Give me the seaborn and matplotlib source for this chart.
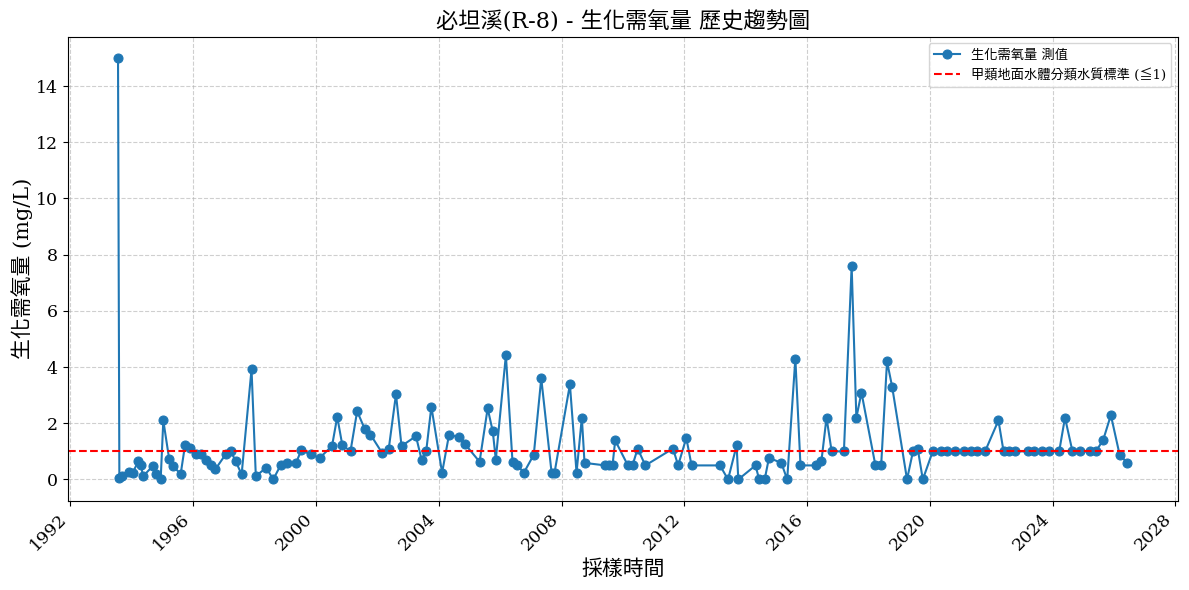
import numpy as np
import pandas as pd
import seaborn as sns
import matplotlib.pyplot as plt
import matplotlib.dates as mdates

# sampling dates and BOD values in mg/L
dates = [
    "1993-07-20", "1993-08-05", "1993-09-10", "1993-12-01", "1994-01-10", "1994-03-20",
    "1994-04-15", "1994-05-15", "1994-09-05", "1994-10-20", "1994-12-10", "1995-01-10",
    "1995-03-20", "1995-05-05", "1995-08-05", "1995-09-25", "1995-11-20", "1996-02-01",
    "1996-04-01", "1996-06-01", "1996-07-30", "1996-09-20", "1997-01-20", "1997-03-25",
    "1997-05-20", "1997-07-30", "1997-11-25", "1998-01-15", "1998-05-20", "1998-08-10",
    "1998-11-05", "1999-01-25", "1999-05-10", "1999-07-10", "1999-10-30", "2000-02-15",
    "2000-07-10", "2000-09-10", "2000-11-10", "2001-02-15", "2001-05-05", "2001-08-05",
    "2001-10-10", "2002-03-01", "2002-05-15", "2002-08-10", "2002-10-15", "2003-04-05",
    "2003-06-10", "2003-08-05", "2003-10-05", "2004-02-10", "2004-05-01", "2004-09-01",
    "2004-11-05", "2005-05-01", "2005-08-05", "2005-10-05", "2005-11-10", "2006-03-10",
    "2006-05-28", "2006-07-25", "2006-10-10", "2007-02-05", "2007-05-05", "2007-09-05",
    "2007-10-10", "2008-04-10", "2008-06-28", "2008-08-30", "2008-10-01", "2009-06-05",
    "2009-07-15", "2009-08-30", "2009-10-01", "2010-03-01", "2010-04-25", "2010-06-25",
    "2010-09-25", "2011-08-20", "2011-10-20", "2012-01-25", "2012-03-28", "2013-03-01",
    "2013-06-05", "2013-09-15", "2013-10-05", "2014-04-28", "2014-06-10", "2014-08-15",
    "2014-10-05", "2015-03-01", "2015-05-10", "2015-08-15", "2015-10-15", "2016-04-20",
    "2016-06-20", "2016-08-20", "2016-10-20", "2017-03-15", "2017-06-15", "2017-08-10",
    "2017-10-10", "2018-03-25", "2018-06-01", "2018-08-10", "2018-10-10", "2019-04-05",
    "2019-06-15", "2019-08-10", "2019-10-10", "2020-02-05", "2020-05-15", "2020-07-25",
    "2020-10-25", "2021-02-15", "2021-05-05", "2021-07-15", "2021-10-20", "2022-03-28",
    "2022-05-28", "2022-07-28", "2022-10-10", "2023-03-10", "2023-05-20", "2023-08-25",
    "2023-11-20", "2024-03-20", "2024-05-28", "2024-08-25", "2024-11-25", "2025-03-20",
    "2025-05-30", "2025-08-25", "2025-11-25", "2026-03-10", "2026-06-10",
]
bod = [
    15.0, 0.05, 0.12, 0.26, 0.24, 0.65,
    0.53, 0.12, 0.47, 0.18, 0.02, 2.1,
    0.74, 0.47, 0.2, 1.21, 1.13, 0.89,
    0.9, 0.7, 0.53, 0.36, 0.89, 1.0,
    0.65, 0.18, 3.92, 0.12, 0.42, 0.0,
    0.5, 0.57, 0.6, 1.04, 0.89, 0.77,
    1.19, 2.23, 1.21, 1.01, 2.43, 1.78,
    1.6, 0.93, 1.07, 3.03, 1.19, 1.54,
    0.71, 1.01, 2.59, 0.24, 1.57, 1.52,
    1.27, 0.63, 2.53, 1.71, 0.71, 4.42,
    0.62, 0.5, 0.24, 0.88, 3.6, 0.24,
    0.24, 3.38, 0.24, 2.2, 0.59, 0.5,
    0.5, 0.5, 1.39, 0.5, 0.5, 1.1,
    0.5, 1.1, 0.5, 1.48, 0.5, 0.5,
    0.0, 1.21, 0.0, 0.5, 0.0, 0.0,
    0.77, 0.59, 0.0, 4.3, 0.5, 0.5,
    0.65, 2.2, 1.0, 1.0, 7.6, 2.2,
    3.09, 0.5, 0.5, 4.2, 3.3, 0.0,
    1.0, 1.1, 0.0, 1.0, 1.0, 1.0,
    1.0, 1.0, 1.0, 1.0, 1.0, 2.1,
    1.0, 1.0, 1.0, 1.0, 1.0, 1.0,
    1.0, 1.0, 2.2, 1.0, 1.0, 1.0,
    1.0, 1.4, 2.29, 0.87, 0.59,
]
standard = 1

df = pd.DataFrame({'date': pd.to_datetime(dates), 'bod': bod})

plt.rcParams['font.family'] = ['DejaVu Serif', 'Noto Sans CJK TC']
plt.rcParams['axes.unicode_minus'] = False

fig, ax = plt.subplots(figsize=(11.89, 5.9), dpi=100)

sns.lineplot(data=df, x='date', y='bod', marker='o', markersize=6.5,
             markeredgecolor='#1f77b4', color='#1f77b4', linewidth=1.5,
             label='生化需氧量 測值', ax=ax)
ax.axhline(standard, color='red', linestyle='--', linewidth=1.5,
           label='甲類地面水體分類水質標準 (≦1)')

ax.set_title('必坦溪(R-8) - 生化需氧量 歷史趨勢圖', fontsize=16)
ax.set_xlabel('採樣時間', fontsize=15)
ax.set_ylabel('生化需氧量 (mg/L)', fontsize=15, labelpad=2)
ax.tick_params(labelsize=12.5)
ax.xaxis.set_major_locator(mdates.YearLocator(4))
ax.xaxis.set_major_formatter(mdates.DateFormatter('%Y'))
plt.setp(ax.get_xticklabels(), rotation=45, ha='right')
ax.grid(True, linestyle='--', alpha=0.6)
ax.legend(loc='upper right', fontsize=9.5)

plt.tight_layout(pad=0.8)
plt.savefig('out.png', dpi=100)
